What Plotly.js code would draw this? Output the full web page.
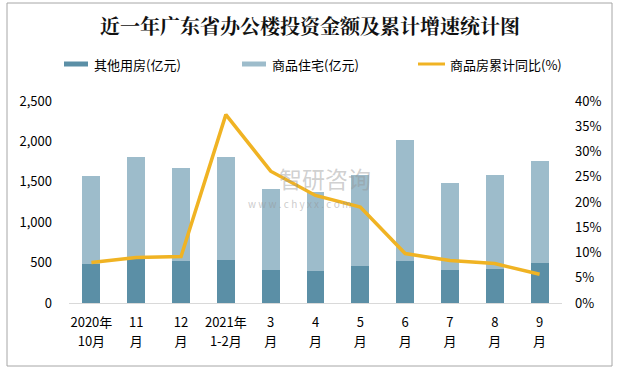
<!DOCTYPE html>
<html>
<head>
<meta charset="utf-8">
<script src="https://cdn.plot.ly/plotly-3.0.1.min.js"></script>
<style>
html,body{margin:0;padding:0;background:#fff;}
#chart{width:631px;height:371px;}
</style>
</head>
<body>
<div id="chart"></div>
<script>
// ---- data ----
const categories = ["2020年<br>10月","11<br>月","12<br>月","2021年<br>1-2月","3<br>月","4<br>月","5<br>月","6<br>月","7<br>月","8<br>月","9<br>月"];
const otherName = "其他用房(亿元)";
const otherValues = [486, 570, 520, 532, 408, 396, 458, 520, 408, 421, 495];
const housingName = "商品住宅(亿元)";
const housingValues = [1086, 1237, 1151, 1275, 1003, 978, 1126, 1497, 1077, 1163, 1262];
const growthName = "商品房累计同比(%)";
const growthValues = [0.080, 0.090, 0.092, 0.373, 0.261, 0.213, 0.190, 0.098, 0.084, 0.078, 0.057];
const leftTicks = [0, 500, 1000, 1500, 2000, 2500];
const leftTickText = ["0", "500", "1,000", "1,500", "2,000", "2,500"];
const rightTicks = [0, 0.05, 0.10, 0.15, 0.20, 0.25, 0.30, 0.35, 0.40];
const rightTickText = ["0%", "5%", "10%", "15%", "20%", "25%", "30%", "35%", "40%"];

const darkColor = "#5B8FA6";
const lightColor = "#9DBCCB";
const lineColor = "#F0B323";
const font = "'Noto Sans CJK SC', 'Noto Sans', sans-serif";

// plot area in pixels
const W = 631, H = 371;
const mL = 69, mR = 69, mT = 101, mB = 68;
const pw = W - mL - mR, ph = H - mT - mB;
const px = v => (v - mL) / pw;
const py = v => (H - mB - v) / ph;

// x tick labels: 13px glyphs with ~19px line spacing
const xTickText = categories.map(c => c.split("<br>").map(s => '<span style="font-size:13px">' + s + '</span>').join("<br>"));

const traces = [
  {type: "bar", name: otherName, x: categories, y: otherValues, marker: {color: darkColor}, width: 0.4, showlegend: false, hoverinfo: "skip"},
  {type: "bar", name: housingName, x: categories, y: housingValues, marker: {color: lightColor}, width: 0.4, showlegend: false, hoverinfo: "skip"},
  {type: "scatter", mode: "lines", name: growthName, x: categories, y: growthValues, yaxis: "y2",
   line: {color: lineColor, width: 3.5}, showlegend: false, hoverinfo: "skip"}
];

const shapes = [
  // frame
  {type: "rect", xref: "paper", yref: "paper", x0: px(7), x1: px(612), y0: py(366), y1: py(3),
   line: {color: "#A6A6A6", width: 1}, fillcolor: "rgba(0,0,0,0)", layer: "below"},
  // legend swatches
  {type: "rect", xref: "paper", yref: "paper", x0: px(64), x1: px(88), y0: py(66.5), y1: py(61.5), line: {width: 0}, fillcolor: darkColor},
  {type: "rect", xref: "paper", yref: "paper", x0: px(242), x1: px(266), y0: py(66.5), y1: py(61.5), line: {width: 0}, fillcolor: lightColor},
  {type: "line", xref: "paper", yref: "paper", x0: px(418), x1: px(445), y0: py(64), y1: py(64), line: {color: lineColor, width: 3}}
];

const annotations = [
  {text: otherName, xref: "paper", yref: "paper", x: px(92), y: py(64), xanchor: "left", yanchor: "middle", showarrow: false, font: {size: 13, color: "#000", family: font}},
  {text: housingName, xref: "paper", yref: "paper", x: px(270), y: py(64), xanchor: "left", yanchor: "middle", showarrow: false, font: {size: 13, color: "#000", family: font}},
  {text: growthName, xref: "paper", yref: "paper", x: px(448), y: py(64), xanchor: "left", yanchor: "middle", showarrow: false, font: {size: 13, color: "#000", family: font}},
  // watermark
  {text: "智研咨询", xref: "paper", yref: "paper", x: px(277), y: py(178), xanchor: "left", yanchor: "middle", showarrow: false, font: {size: 23, color: "rgba(150,150,150,0.45)", family: font}},
  {text: "w w w . c h y x x . c o m", xref: "paper", yref: "paper", x: px(246), y: py(203), xanchor: "left", yanchor: "middle", showarrow: false, font: {size: 10, color: "rgba(150,150,150,0.5)", family: font}}
];

const layout = {
  width: W, height: H,
  margin: {l: mL, r: mR, t: mT, b: mB, pad: 0},
  paper_bgcolor: "#fff", plot_bgcolor: "rgba(0,0,0,0)",
  barmode: "stack",
  showlegend: false,
  font: {family: font, size: 13, color: "#000"},
  title: {text: "<b>近一年广东省办公楼投资金额及累计增速统计图</b>", x: 310 / W, xanchor: "center", y: 1 - 27 / H, yanchor: "middle",
          font: {size: 20, color: "#111", family: "'Noto Serif CJK SC', 'Noto Sans CJK SC', serif"}},
  xaxis: {type: "category", showgrid: false, showline: true, linecolor: "#D9D9D9", linewidth: 1, ticks: "",
          tickmode: "array", tickvals: categories, ticktext: xTickText,
          ticklabelstandoff: 5, tickfont: {size: 14.6, family: font, color: "#000"}, zeroline: false, fixedrange: true},
  yaxis: {range: [0, 2500], tickvals: leftTicks, ticktext: leftTickText, showgrid: false, zeroline: false, showline: false,
          ticks: "", ticklabelstandoff: 16, tickfont: {size: 13, family: font, color: "#000"}, fixedrange: true},
  yaxis2: {overlaying: "y", side: "right", range: [0, 0.4], tickvals: rightTicks, ticktext: rightTickText, showgrid: false,
           zeroline: false, showline: false, ticks: "", ticklabelstandoff: 12, tickfont: {size: 13, family: font, color: "#000"}, fixedrange: true},
  shapes: shapes,
  annotations: annotations
};

Plotly.newPlot("chart", traces, layout, {displayModeBar: false, staticPlot: true});
</script>
</body>
</html>
